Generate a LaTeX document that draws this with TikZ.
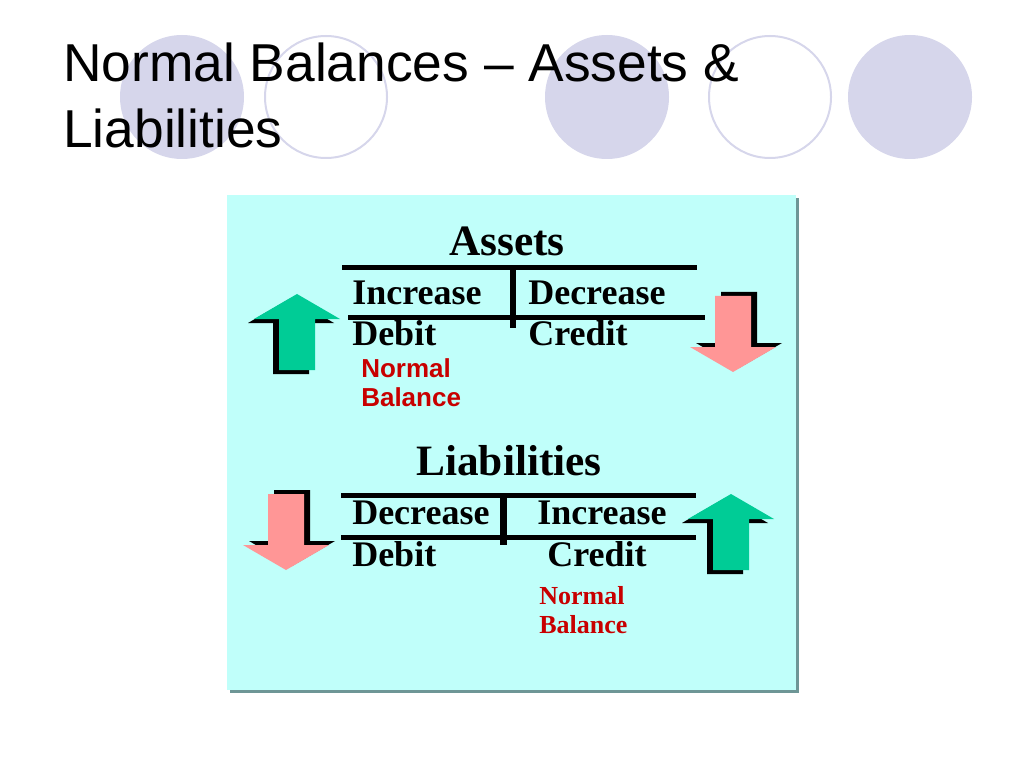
\documentclass[tikz,border=0pt]{standalone}
\usepackage{fontspec}
\setmainfont{Liberation Serif}
\newfontfamily\arialfont{Liberation Sans}
\usepackage{xcolor}
\usepackage{tikz}
\usetikzlibrary{positioning}

\definecolor{boxcyan}{RGB}{192,255,250}
\definecolor{boxshade}{RGB}{110,150,150}
\definecolor{dotlav}{RGB}{214,214,235}
\definecolor{upgreen}{RGB}{0,204,150}
\definecolor{downred}{RGB}{255,150,150}
\definecolor{normred}{RGB}{200,0,0}

\tikzset{
  bigarrow/.pic={
    \fill[black,shift={(-6,4)}] (0,0) -- (43,25) -- (18,25) -- (18,76) -- (-18,76) -- (-18,25) -- (-43,25) -- cycle;
    \fill[#1] (0,0) -- (43,25) -- (18,25) -- (18,76) -- (-18,76) -- (-18,25) -- (-43,25) -- cycle;
  }
}

\begin{document}
\begin{tikzpicture}[x=0.75pt,y=-0.75pt,
    title/.style={inner sep=0pt,anchor=base west,font=\arialfont\fontsize{40}{48}\selectfont},
    acct/.style={inner sep=0pt,anchor=base,font=\bfseries\fontsize{32.5}{39}\selectfont},
    entry/.style={inner sep=0pt,anchor=base west,font=\bfseries\fontsize{27}{32}\selectfont},
    normsans/.style={inner sep=0pt,anchor=base west,text=normred,font=\arialfont\bfseries\fontsize{19.5}{23}\selectfont},
    normserif/.style={inner sep=0pt,anchor=base west,text=normred,font=\bfseries\fontsize{19.5}{23}\selectfont},
    tline/.style={line width=3.75pt},
    tbar/.style={line width=5pt}]
    \useasboundingbox (0,0) rectangle (1023,780);

    % Background dots
    \fill[dotlav] (182,97) circle (62);
    \draw[dotlav,line width=1.5pt] (326,97) circle (61);
    \fill[dotlav] (607,97) circle (62);
    \draw[dotlav,line width=1.5pt] (770,97) circle (61);
    \fill[dotlav] (910,97) circle (62);

    % Title
    \node[title] (title) at (63,82) {Normal Balances – Assets \&};
    \node[title] (titlesub) at (63,148) {Liabilities};

    % Panel
    \fill[boxshade] (230,198) rectangle (799,693);
    \fill[boxcyan] (227,195) rectangle (796,690);

    % Assets T-account
    \node[acct] (assets) at (507,256) {Assets};
    \draw[tline] (342,268) -- (697,268);
    \draw[tline] (348,317) -- (705,317);
    \draw[tbar] (513,268) -- (513,328);
    \node[entry] (incA) at (352,305) {Increase};
    \node[entry] (decA) at (528,305) {Decrease};
    \node[entry] (debA) at (352,345) {Debit};
    \node[entry] (creA) at (528,345) {Credit};
    \node[normsans] (normA) at (361,377) {Normal};
    \node[normsans] (balA) at (361,406) {Balance};
    \pic (upA) at (297,294) {bigarrow=upgreen};
    \pic[rotate=180] (downA) at (733,372) {bigarrow=downred};

    % Liabilities T-account
    \node[acct] (liab) at (509,475) {Liabilities};
    \draw[tline] (341,495) -- (696,495);
    \draw[tline] (341,537) -- (696,537);
    \draw[tbar] (503.5,495) -- (503.5,545);
    \node[entry] (decL) at (352,524) {Decrease};
    \node[entry] (incL) at (537,524) {Increase};
    \node[entry] (debL) at (352,566) {Debit};
    \node[entry] (creL) at (547,566) {Credit};
    \node[normserif] (normL) at (539,604) {Normal};
    \node[normserif] (balL) at (539,633) {Balance};
    \pic[rotate=180] (downL) at (286,570) {bigarrow=downred};
    \pic (upL) at (731,494) {bigarrow=upgreen};
\end{tikzpicture}
\end{document}
